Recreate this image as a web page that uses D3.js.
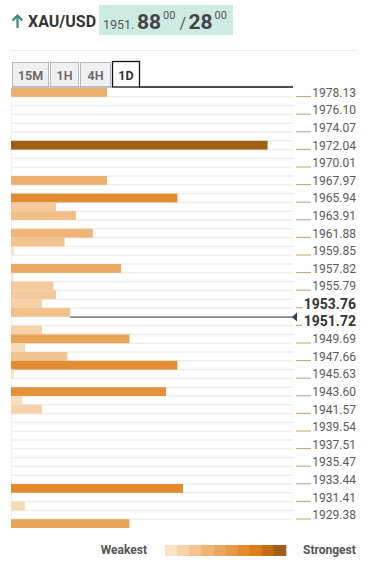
<!DOCTYPE html>
<html><head><meta charset="utf-8">
<script src="https://cdn.jsdelivr.net/npm/d3@7"></script>
<style>
html,body{margin:0;padding:0;background:#fff;}
svg{display:block;font-family:Roboto,"Noto Sans",sans-serif;}
</style></head>
<body>
<svg id="chart" width="368" height="571"></svg>
<script>
// ---- data ----
const symbol = "XAU/USD";
const bidMain = "1951.", bidBig = "88", bidSup = "00";
const askBig = "28", askSup = "00";
const tabs = ["15M","1H","4H","1D"];
const activeTab = "1D";
const tickLabels = ["1978.13","1976.10","1974.07","1972.04","1970.01","1967.97","1965.94","1963.91","1961.88","1959.85","1957.82","1955.79","1953.76","1951.72","1949.69","1947.66","1945.63","1943.60","1941.57","1939.54","1937.51","1935.47","1933.44","1931.41","1929.38"];
const boldLabels = ["1953.76","1951.72"];
// confluence strength per half-step row (top = highest price)
const strength = [34,0,0,0,0,0,91,0,0,0,
                  34,0,59,16,23,0,29,19,1,0,
                  39,0.8,15,16,11,21,0,11,42,5,
                  20,59,1,0,55,4,11,0,0,0,
                  0,0,0,0,0,61,0,5,0,42];
const priceRow = 26; // current price sits on the 1951.72 row boundary
const legendColors = ["#fbe2c5","#f7d2a9","#f3c28d","#efb375","#eba65e","#e79746","#e28a2d","#dc7d1a","#c26d15","#a05e17"];
const legendLeft = "Weakest", legendRight = "Strongest";

// ---- drawing ----
const svg = d3.select("#chart");

// header
svg.append("path").attr("d","M17.5 28 V15.5 M12.5 20.5 L17.5 15.5 L22.5 20.5")
  .attr("fill","none").attr("stroke","#3a8c74").attr("stroke-width",2.2);
svg.append("text").attr("x",28).attr("y",27).attr("font-size",16).attr("font-weight",700)
  .attr("fill","#333").text(symbol);
svg.append("rect").attr("x",99).attr("y",5).attr("width",134).attr("height",30).attr("fill","#cdebe2");
const q = svg.append("text").attr("x",103).attr("y",28.5).attr("fill","#444");
q.append("tspan").attr("font-size",12.5).attr("fill","#555").text(bidMain);
q.append("tspan").attr("font-size",21).attr("font-weight",700).attr("dx",2.5).text(bidBig);
q.append("tspan").attr("font-size",11).attr("dx",2).attr("dy",-10).attr("fill","#555").text(bidSup);
q.append("tspan").attr("font-size",16).attr("dx",4).attr("dy",10).attr("fill","#555").text("/");
q.append("tspan").attr("font-size",21).attr("font-weight",700).attr("dx",2.5).text(askBig);
q.append("tspan").attr("font-size",11).attr("dx",2).attr("dy",-10).attr("fill","#555").text(askSup);

svg.append("line").attr("x1",10).attr("x2",357).attr("y1",50.5).attr("y2",50.5).attr("stroke","#ececec");

// tabs
const tabX = {"15M":[12,36],"1H":[50,28],"4H":[80,30],"1D":[112,27]};
tabs.forEach(t=>{
  const [x,w] = tabX[t];
  const act = t===activeTab;
  svg.append("rect").attr("x",x+0.5).attr("y",act?61.5:62.5).attr("width",w).attr("height",act?25.5:24.5)
    .attr("fill",act?"#fff":"#f0f0f3").attr("stroke",act?"#111":"#a8a8b0").attr("stroke-width",act?1.3:0.8);
  svg.append("text").attr("x",x+w/2+0.5).attr("y",79.5).attr("text-anchor","middle")
    .attr("font-size",12.5).attr("font-weight",act?700:600).attr("fill",act?"#333":"#666").text(t);
});
svg.append("line").attr("x1",139).attr("x2",293).attr("y1",87).attr("y2",87).attr("stroke","#111").attr("stroke-width",1.3);
svg.append("line").attr("x1",12).attr("x2",112).attr("y1",87).attr("y2",87).attr("stroke","#999").attr("stroke-width",0.8);

// scales
const y = d3.scaleBand().domain(d3.range(strength.length)).range([88,528]);
const x = d3.scaleLinear().domain([0,100]).range([11,293]);
const maxV = d3.max(strength);
const color = d3.scaleLinear().domain(legendColors.map((c,i)=>i*maxV/(legendColors.length-1))).range(legendColors);

// grid
svg.append("line").attr("x1",11.5).attr("x2",11.5).attr("y1",88).attr("y2",528).attr("stroke","#f0f0f0");
svg.selectAll("line.grid").data(d3.range(1,strength.length)).join("line").attr("class","grid")
  .attr("x1",x(0)).attr("x2",x(100)).attr("y1",d=>y(d)).attr("y2",d=>y(d))
  .attr("stroke","#efefef").attr("stroke-width",1.6);

// price line
const lineStart = Math.max(x(strength[priceRow-1]), x(strength[priceRow]));
svg.append("line").attr("x1",lineStart).attr("x2",x(100)).attr("y1",y(priceRow)+0.3).attr("y2",y(priceRow)+0.3)
  .attr("stroke","#2c3e50").attr("stroke-width",1);
svg.append("path").attr("d",`M${x(100)-1},${y(priceRow)+0.3} l5,-4.5 v9 z`).attr("fill","#2c3e50");

// bars
svg.selectAll("rect.bar").data(strength.map((v,i)=>({v,i})).filter(d=>d.v>0)).join("rect").attr("class","bar")
  .attr("x",x(0)).attr("y",d=>y(d.i)).attr("height",y.bandwidth())
  .attr("width",d=>x(d.v)-x(0)).attr("fill",d=>color(d.v));

// axis labels
tickLabels.forEach((lab,k)=>{
  const row = 2*k;
  const bold = boldLabels.includes(lab);
  const t = svg.append("text").attr("x",356).attr("y",y(row)+y.bandwidth()/2).attr("dy","0.36em")
    .attr("text-anchor","end").attr("font-size",bold?14:12).attr("font-weight",bold?700:400)
    .attr("fill",bold?"#333":"#5a5a5a").text(lab);
  const w = t.node().getComputedTextLength();
  svg.append("line").attr("x1",296).attr("x2",356-w-1.5).attr("y1",y(row)+y.bandwidth()-0.2).attr("y2",y(row)+y.bandwidth()-0.2)
    .attr("stroke","#c9a15a").attr("stroke-width",1);
});

// legend
svg.append("text").attr("x",147).attr("y",554).attr("text-anchor","end").attr("font-size",12).attr("font-weight",700).attr("fill","#555").text(legendLeft);
svg.append("text").attr("x",303).attr("y",554).attr("font-size",12).attr("font-weight",700).attr("fill","#555").text(legendRight);
const lx = d3.scaleBand().domain(d3.range(legendColors.length)).range([165,286]);
svg.selectAll("rect.leg").data(legendColors).join("rect").attr("class","leg")
  .attr("x",(d,i)=>lx(i)).attr("y",545).attr("width",lx.bandwidth()+0.3).attr("height",11).attr("fill",d=>d);
</script>
</body></html>
